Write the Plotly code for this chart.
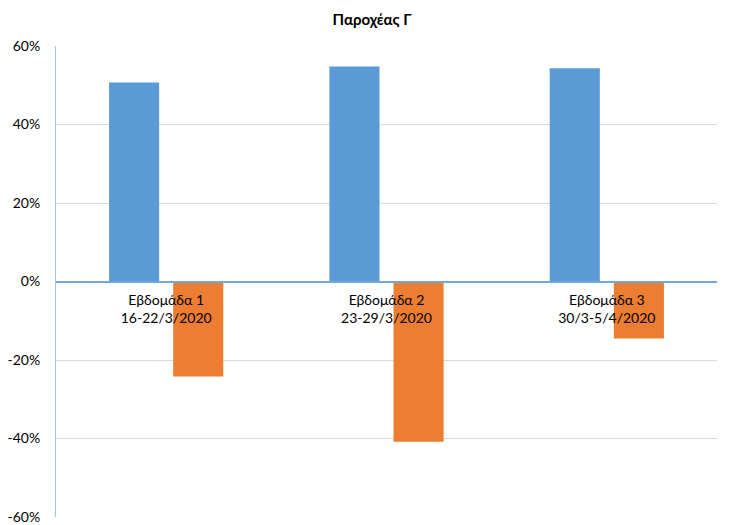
import plotly.graph_objects as go

categories = ["Εβδομάδα 1<br>16-22/3/2020", "Εβδομάδα 2<br>23-29/3/2020", "Εβδομάδα 3<br>30/3-5/4/2020"]
series_a = [0.507, 0.548, 0.543]
series_b = [-0.242, -0.408, -0.145]
y_ticks = [-0.6, -0.4, -0.2, 0.0, 0.2, 0.4, 0.6]
y_tick_labels = ["-60%", "-40%", "-20%", "0%", "20%", "40%", "60%"]

fig = go.Figure()
fig.add_trace(go.Bar(x=categories, y=series_a, marker=dict(color="#5B9BD5", line=dict(width=0)), name="A"))
fig.add_trace(go.Bar(x=categories, y=series_b, marker=dict(color="#ED7D31", line=dict(width=0)), name="B"))

fig.update_layout(
    width=721, height=517,
    margin=dict(l=48, r=12, t=38, b=8, autoexpand=False),
    paper_bgcolor="white", plot_bgcolor="white",
    showlegend=False,
    barmode="group", bargap=0.418, bargroupgap=0.219,
    font=dict(family="Lato, Open Sans, sans-serif", size=14, color="#404040"),
    title=dict(text="<b>Παροχέας Γ</b>", x=0.505, xanchor="center", y=0.977, yanchor="middle",
               font=dict(size=15, color="#000000"), automargin=False),
)
fig.update_yaxes(
    range=[-0.6, 0.6], tickvals=y_ticks, ticktext=y_tick_labels, automargin=False,
    showgrid=True, gridcolor="#D9D9D9", gridwidth=1,
    zeroline=False, showline=True, linecolor="#9DC3E6", linewidth=1,
    ticks="", ticklabelstandoff=12, tickfont=dict(size=14, color="#000000"),
)
fig.update_xaxes(
    anchor="free", position=0.5, automargin=False,
    showline=True, linecolor="#6FA8DC", linewidth=1.5,
    ticks="", showgrid=False, tickfont=dict(size=14, color="#000000"),
    ticklabelstandoff=6,
)
fig.write_html("out.html")
